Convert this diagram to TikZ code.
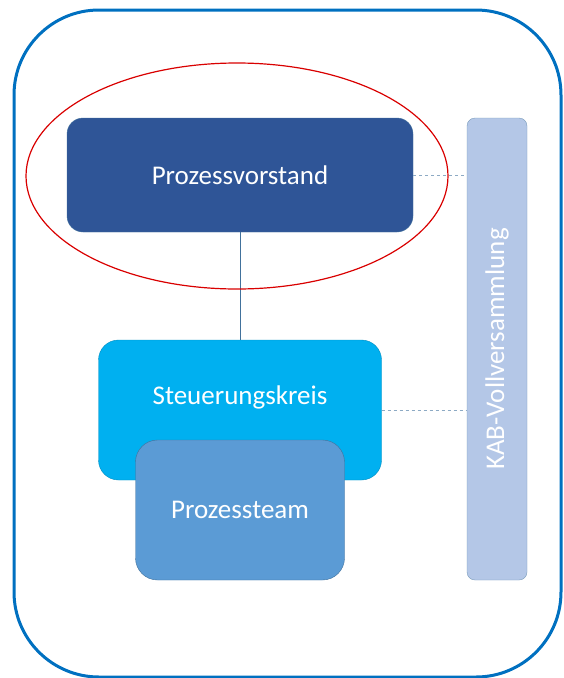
\documentclass[tikz,border=0pt]{standalone}
\usepackage{fontspec}
\setmainfont{Carlito}
\definecolor{rahmen}{HTML}{0070C0}
\definecolor{vorstand}{HTML}{2F5597}
\definecolor{kreis}{HTML}{00B0F0}
\definecolor{team}{HTML}{5B9BD5}
\definecolor{versammlung}{HTML}{B4C7E7}
\definecolor{kante}{HTML}{41719C}
\begin{document}
\begin{tikzpicture}[x=1pt,y=-1pt,
  box/.style={draw=kante,rounded corners=16pt,text=white,font=\fontsize{27}{32}\selectfont,inner sep=0pt},
  dashline/.style={draw=kante!60,dashed,line width=0.6pt}]
\useasboundingbox (0,0) rectangle (563,678);
\pgfmathsetmacro{\bx}{240}
% outer frame
\draw[rahmen,line width=3pt,rounded corners=85pt] (14,10) rectangle (561,677);
\node[box,fill=versammlung,draw=kante!70,rounded corners=8pt,minimum width=462pt,minimum height=60pt,rotate=90] (kab) at (497,349) {KAB-Vollversammlung};
\node[box,fill=vorstand,minimum width=346pt,minimum height=114pt] (pv) at (\bx,175) {Prozessvorstand};
\node[box,fill=kreis,draw=kreis!80!black,minimum width=283pt,minimum height=140pt,rounded corners=20pt] (sk) at (\bx,410) {\raisebox{30pt}{Steuerungskreis}};
\node[box,fill=team,minimum width=209pt,minimum height=140pt,rounded corners=22pt] (pt) at (\bx,510) {Prozessteam};
% connectors
\draw[kante,line width=1pt] (pv.south) -- (sk.north);
\draw[dashline] (pv.east) -- (pv.east -| kab.north);
\draw[dashline] (sk.east) -- (sk.east -| kab.north);
% highlight
\draw[red!85!black,line width=1.2pt] (237,176) ellipse (211pt and 113pt);
\end{tikzpicture}
\end{document}
